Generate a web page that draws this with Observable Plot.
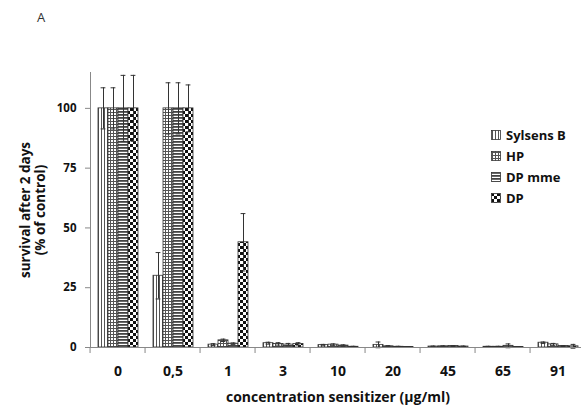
<!DOCTYPE html>
<html>
<head>
<meta charset="utf-8">
<script src="https://cdn.jsdelivr.net/npm/d3@7"></script>
<script src="https://cdn.jsdelivr.net/npm/@observablehq/plot@0.6"></script>
<style>
  html, body { margin: 0; padding: 0; background: #fff; }
  #wrap { position: relative; width: 581px; height: 412px; font-family: "Open Sans", sans-serif; }
  #title { height: 30px; position: relative; }
  #title span { position: absolute; left: 37px; top: 8px; font-size: 13px; color: #333; }
  #legend { position: absolute; left: 491px; top: 124px; }
  #legend .row { display: flex; align-items: center; height: 21px; font-size: 13px; font-weight: bold; color: #111; }
  #legend svg { margin-right: 5px; }
</style>
</head>
<body>
<svg width="0" height="0" style="position:absolute">
  <defs>
    <pattern id="pVert" patternUnits="userSpaceOnUse" width="3" height="3">
      <rect width="3" height="3" fill="#fff"/>
      <rect x="1" width="1" height="3" fill="#555"/>
    </pattern>
    <pattern id="pGrid" patternUnits="userSpaceOnUse" width="3" height="3">
      <rect width="3" height="3" fill="#fff"/>
      <rect x="1" width="1" height="3" fill="#555"/>
      <rect y="1" width="3" height="1" fill="#555"/>
    </pattern>
    <pattern id="pHoriz" patternUnits="userSpaceOnUse" width="3" height="3">
      <rect width="3" height="3" fill="#fff"/>
      <rect y="0" width="3" height="1.8" fill="#444"/>
    </pattern>
    <pattern id="pCheck" patternUnits="userSpaceOnUse" width="6" height="6">
      <rect width="6" height="6" fill="#fff"/>
      <rect width="3" height="3" fill="#111"/>
      <rect x="3" y="3" width="3" height="3" fill="#111"/>
    </pattern>
  </defs>
</svg>
<div id="wrap">
  <div id="title"><span>A</span></div>
  <div id="chart"></div>
  <div id="legend"></div>
</div>
<script>
const categories = ["0", "0,5", "1", "3", "10", "20", "45", "65", "91"];
const series = ["Sylsens B", "HP", "DP mme", "DP"];
const sylsensB    = [100, 30, 1.2, 1.8, 1.0, 1.1, 0.4, 0.3, 2.0];
const sylsensBErr = [8.6, 9.7, 0.4, 0.4, 0.3, 1.2, 0.2, 0.2, 0.3];
const hp          = [100, 100, 3.0, 1.5, 1.2, 0.5, 0.5, 0.3, 1.3];
const hpErr       = [8.6, 10.7, 0.5, 0.5, 0.3, 0.3, 0.2, 0.2, 0.4];
const dpMme       = [100, 100, 1.6, 1.2, 0.8, 0.3, 0.6, 0.7, 0.6];
const dpMmeErr    = [13.8, 10.7, 0.3, 0.5, 0.3, 0.2, 0.2, 0.8, 0.2];
const dp          = [100, 100, 44, 1.5, 0.3, 0.2, 0.4, 0.2, 0.5];
const dpErr       = [13.8, 9.8, 12, 0.5, 0.2, 0.2, 0.2, 0.2, 0.8];
const yTicks = [0, 25, 50, 75, 100];
const yLabel = "survival after 2 days\n(% of control)";
const xLabel = "concentration sensitizer (µg/ml)";

const patterns = ["url(#pVert)", "url(#pGrid)", "url(#pHoriz)", "url(#pCheck)"];
const valueSets = [sylsensB, hp, dpMme, dp];
const errSets = [sylsensBErr, hpErr, dpMmeErr, dpErr];

const rows = [];
categories.forEach((cat, i) => {
  series.forEach((s, j) => {
    rows.push({cat, series: s, value: valueSets[j][i], err: errSets[j][i]});
  });
});

const W = 581, H = 382, ML = 86, MR = -8;
const bandwidth = (W - MR - ML) / categories.length;
const fontFamily = "'Open Sans', sans-serif";

const chart = Plot.plot({
  width: W,
  height: H,
  marginLeft: ML,
  marginRight: MR,
  marginTop: 42,
  marginBottom: 65,
  style: {fontFamily, background: "transparent", overflow: "visible"},
  fx: {domain: categories, padding: 0},
  x: {domain: series, paddingInner: 0, paddingOuter: 0.72, axis: null},
  y: {domain: [0, 115]},
  color: {domain: series, range: patterns},
  marks: [
    Plot.barY(rows, {fx: "cat", x: "series", y: "value", fill: "series", stroke: "#333", strokeWidth: 0.8}),
    Plot.ruleX(rows, {fx: "cat", x: "series", y1: d => d.value - d.err, y2: d => d.value + d.err, stroke: "#333", strokeWidth: 1}),
    Plot.tickY(rows, {fx: "cat", x: "series", y: d => d.value + d.err, insetLeft: 2.6, insetRight: 2.6, stroke: "#333", strokeWidth: 1}),
    Plot.tickY(rows, {fx: "cat", x: "series", y: d => d.value - d.err, insetLeft: 2.6, insetRight: 2.6, stroke: "#333", strokeWidth: 1}),
    Plot.ruleY([0], {stroke: "#888", strokeWidth: 1}),
    Plot.frame({anchor: "left", facetAnchor: "left", stroke: "#888", strokeWidth: 1}),
    Plot.axisY({ticks: yTicks, tickSize: 5, tickPadding: 9, label: null, fontWeight: "bold", fontSize: 11.5, stroke: "#888", fill: "#111"}),
    Plot.axisFx({anchor: "bottom", tickSize: 0, tickPadding: 19, fontWeight: "bold", fontSize: 14, fill: "#111", label: xLabel, labelAnchor: "center", labelOffset: 54}),
    Plot.axisFx({anchor: "bottom", tickSize: 6, tickFormat: () => "", dx: -bandwidth / 2, label: null, stroke: "#888"}),
    Plot.text([yLabel], {frameAnchor: "left", facetAnchor: "left", rotate: -90, dx: -58, textAnchor: "middle", lineAnchor: "middle", lineHeight: 1.15, fontWeight: "bold", fontSize: 13.5, fill: "#111"})
  ]
});
document.getElementById("chart").appendChild(chart);

const legend = document.getElementById("legend");
series.forEach((s, j) => {
  const row = document.createElement("div");
  row.className = "row";
  row.innerHTML = `<svg width="10" height="10"><rect x="0.5" y="0.5" width="9" height="9" fill="${patterns[j]}" stroke="#333" stroke-width="0.8"/></svg><span>${s}</span>`;
  legend.appendChild(row);
});
</script>
</body>
</html>
